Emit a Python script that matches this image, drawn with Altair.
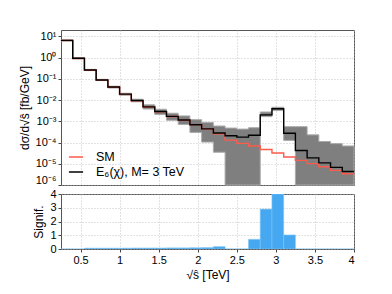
import altair as alt
import pandas as pd

edges = [0.25, 0.40, 0.55, 0.70, 0.85, 1.00, 1.15, 1.30, 1.45, 1.60, 1.75, 1.90, 2.05,
         2.20, 2.35, 2.50, 2.65, 2.80, 2.95, 3.10, 3.25, 3.40, 3.55, 3.70, 3.85, 4.00]

signal = [6.5, 0.93, 0.26, 0.089, 0.041, 0.019, 0.0095, 0.0048, 0.0029, 0.0017, 0.00115,
          6.9e-4, 4.4e-4, 2.8e-4, 2.1e-4, 1.8e-4, 2.2e-4, 2.0e-3, 3.9e-3, 2.75e-4, 4.2e-5,
          1.9e-5, 1.1e-5, 6.8e-6, 4.3e-6]
sm = [6.4, 0.91, 0.255, 0.087, 0.040, 0.0185, 0.0093, 0.0047, 0.0028, 0.00168, 0.00113,
      6.8e-4, 4.3e-4, 2.6e-4, 1.3e-4, 9.1e-5, 6.9e-5, 4.7e-5, 3.2e-5, 2.1e-5, 1.45e-5,
      1.02e-5, 7.2e-6, 4.9e-6, 3.4e-6]
band_lo = [6.0, 0.87, 0.245, 0.083, 0.037, 0.017, 0.0083, 0.0038, 0.0021, 0.00112, 7.1e-4,
           3.0e-4, 1.05e-4, 3.5e-5, 1e-6, 1e-6, 1e-6, 1.66e-3, 3.2e-3, 1.26e-4, 1e-6,
           1e-6, 1e-6, 1e-6, 1e-6]
band_hi = [6.9, 1.0, 0.28, 0.095, 0.045, 0.021, 0.011, 0.006, 0.0037, 0.0024, 0.0018,
           0.0012, 8.9e-4, 6.0e-4, 4.8e-4, 4.3e-4, 5.0e-4, 2.75e-3, 4.6e-3, 5.6e-4, 5.6e-4,
           2.3e-4, 1.12e-4, 8.9e-5, 6.9e-5]
signif = [0, 0, 0.06, 0.06, 0.06, 0.06, 0.07, 0.07, 0.07, 0.08, 0.08, 0.09, 0.1, 0.17,
          0, 0, 0.7, 2.9, 4.0, 1.02, 0, 0, 0, 0, 0]

series_names = ["SM", "E\u2086(\u03c7), M= 3 TeV"]
x_ticks = [0.5, 1, 1.5, 2, 2.5, 3, 3.5, 4]
y_ticks_top = [1e-6, 1e-5, 1e-4, 1e-3, 1e-2, 1e-1, 1, 10]
y_ticks_bot = [0, 1, 2, 3, 4]

n = len(edges) - 1
line_rows = []
for name, vals in zip(series_names, [sm, signal]):
    for i in range(n + 1):
        line_rows.append({"x": edges[i], "y": vals[min(i, n - 1)], "series": name})
line_df = pd.DataFrame(line_rows)

band_df = pd.DataFrame({
    "x": edges,
    "lo": band_lo + [band_lo[-1]],
    "hi": band_hi + [band_hi[-1]],
})

bar_df = pd.DataFrame({
    "x": edges[:-1],
    "x2": edges[1:],
    "s": signif,
    "zero": [0] * n,
})

grid_kw = dict(grid=True, gridDash=[1, 2], gridColor="#b5b5b5", gridWidth=0.8)
xscale = alt.Scale(domain=[0.25, 4], nice=False, zero=False)
yscale = alt.Scale(type="log", domain=[1e-6, 20], nice=False)

top_x_axis = alt.Axis(values=x_ticks, labels=False, title=None, domain=False,
                      ticks=False, **grid_kw)
top_y_axis = alt.Axis(
    values=y_ticks_top,
    labelExpr="['10\u207b\u2076','10\u207b\u2075','10\u207b\u2074','10\u207b\u00b3','10\u207b\u00b2','10\u207b\u00b9','10\u2070','10\u00b9'][round(log(datum.value)/LN10)+6]",
    title="d\u03c3/d\u221as\u0302 [fb/GeV]",
    labelFlush=True,
    domain=False, tickSize=3, **grid_kw)

band = alt.Chart(band_df).mark_area(
    interpolate="step-after", color="#7f7f7f", stroke="#ababab", strokeWidth=1
).encode(
    x=alt.X("x:Q", scale=xscale, axis=top_x_axis),
    y=alt.Y("hi:Q", scale=yscale, axis=top_y_axis),
    y2="lo:Q",
)

lines = alt.Chart(line_df).mark_line(interpolate="step-after", strokeWidth=1.4).encode(
    x=alt.X("x:Q", scale=xscale),
    y=alt.Y("y:Q", scale=yscale),
    color=alt.Color(
        "series:N",
        scale=alt.Scale(domain=series_names, range=["#ff5a4a", "#000000"]),
        sort=series_names,
        legend=alt.Legend(
            title=None, orient="none", legendX=7, legendY=119,
            symbolType="stroke", symbolSize=200, symbolStrokeWidth=1.5,
            labelFontSize=12.5, rowPadding=0, labelOffset=12,
        ),
    ),
    detail="series:N",
)

top = alt.layer(band, lines).properties(width=293, height=155)

bars = alt.Chart(bar_df).mark_rect(color="#45a8f0", stroke="#7cc2f5", strokeWidth=0.6, clip=True).encode(
    x=alt.X("x:Q", scale=xscale,
            axis=alt.Axis(values=x_ticks, format="~g", title="\u221as\u0302 [TeV]",
                          domain=False, tickSize=3, **grid_kw)),
    x2="x2:Q",
    y=alt.Y("s:Q", scale=alt.Scale(domain=[0, 4], nice=False),
            axis=alt.Axis(values=y_ticks_bot, title="Signif.", domain=False,
                          tickSize=3, **grid_kw)),
    y2="zero:Q",
)
bottom = bars.properties(width=293, height=55)

chart = alt.vconcat(top, bottom, spacing=9, bounds="flush").properties(
    padding={"left": 9, "top": 21, "right": 5, "bottom": 5}
).configure(
    font="Liberation Sans",
).configure_axis(
    labelFontSize=11, titleFontSize=12, labelColor="#000", titleColor="#000",
    titleFontWeight="normal", tickColor="#444", labelPadding=2,
).configure_view(
    stroke="#555", strokeWidth=1,
).configure_legend(
    labelColor="#000",
)

chart.save("out.html", embed_options={"renderer": "svg", "actions": False})
